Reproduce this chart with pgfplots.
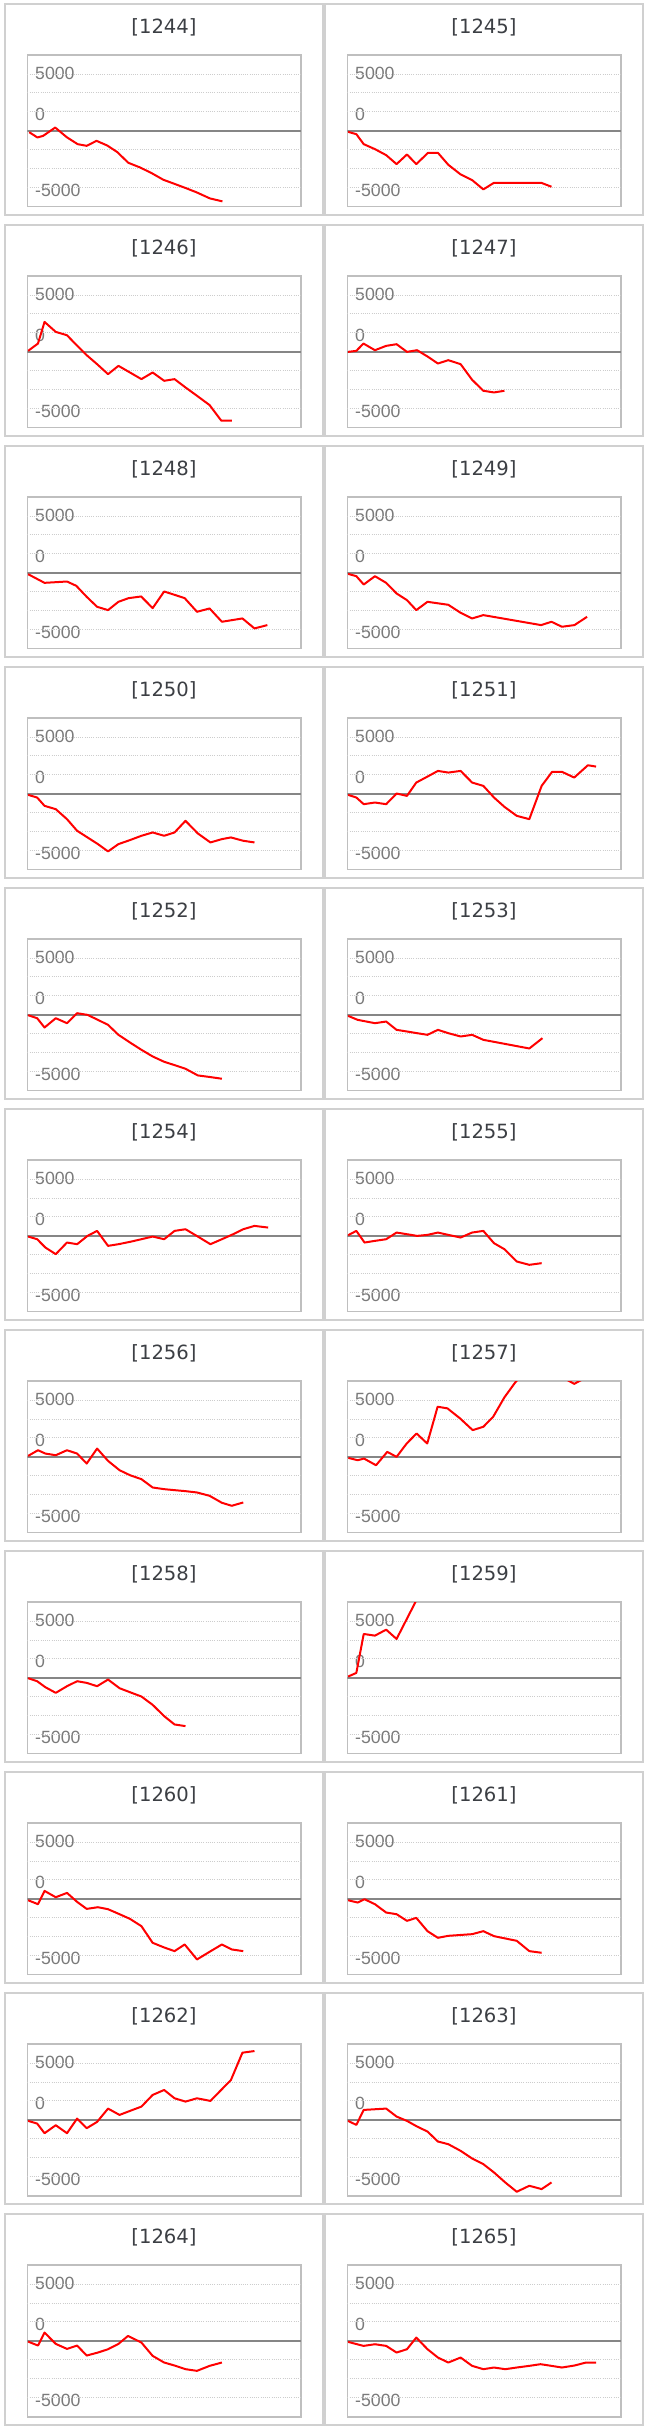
\documentclass[border=0pt]{standalone}
\usepackage{pgfplots}
\pgfplotsset{compat=1.18}
\usepackage{fontspec}
\setmainfont{Liberation Sans}
\newfontfamily\titlefam{DejaVu Sans}
\definecolor{boxgray}{HTML}{D0D0D0}
\definecolor{plotgray}{HTML}{BFBFBF}
\definecolor{gridgray}{HTML}{CDCDCD}
\definecolor{zerogray}{HTML}{868686}
\definecolor{labgray}{HTML}{7A7A7A}
\definecolor{titlegray}{HTML}{3C3F44}
\pgfplotsset{panel/.style={
  scale only axis, width=273.7bp, height=151.7bp,
  xmin=0, xmax=100, ymin=-8000, ymax=8000,
  axis line style={draw=plotgray, line width=1.5bp},
  xtick=\empty,
  ytick={6108,1688,-6308}, yticklabels={5000,0,-5000},
  major tick length=0pt,
  yticklabel style={anchor=west, inner sep=0pt, xshift=7.7bp,
     font=\fontsize{17.7bp}{20bp}\selectfont, text=labgray},
  extra y ticks={-6000,-4000,-2000,2000,4000,6000},
  extra y tick labels={},
  extra y tick style={grid=major, major grid style={gridgray, line width=0.9bp, dash pattern=on 1bp off 1.2bp}},
}}
\newcommand\panel[4]{%
  \pgfmathsetmacro\pnX{320*#1}%
  \pgfmathsetmacro\pnY{221*#2}%
  \pgfmathsetmacro\axX{27.3+\pnX}%
  \pgfmathsetmacro\axY{-55-\pnY}%
  \draw[boxgray, line width=2bp] ({5+\pnX},{-3.7-\pnY}) rectangle ({323+\pnX},{-215.3-\pnY});
  \node[anchor=base, inner sep=0pt, font=\titlefam\fontsize{19.6bp}{24bp}\selectfont, text=titlegray] at ({164+\pnX},{-33.3-\pnY}) {[#3]};
  \begin{axis}[panel, at={(\axX bp,\axY bp)}, anchor=north west]
    \addplot[zerogray, line width=1.7bp, forget plot] coordinates {(0,0) (100,0)};
    \addplot[red, line width=2bp, line join=round, mark=none] coordinates {#4};
  \end{axis}
}
\begin{document}
\begin{tikzpicture}[x=1bp, y=1bp]
\fill[white] (0,0) rectangle (647,-2432);
\path[use as bounding box] (0,0) rectangle (647,-2432);
\panel{0}{0}{1244}{(0.7,-140)(3.7,-700)(5.8,-526)(10.2,350)(14.4,-667)(18.4,-1404)(21.7,-1579)(25.3,-1053)(29.2,-1544)(32.9,-2246)(36.9,-3368)(41.2,-3860)(45.4,-4456)(49.7,-5158)(54,-5614)(58.2,-6070)(61.9,-6491)(66.7,-7123)(71.3,-7439)}
\panel{1}{0}{1245}{(0.3,-105)(3.3,-350)(6,-1404)(10.1,-1930)(14.2,-2561)(18,-3509)(21.8,-2491)(25.2,-3509)(29.5,-2316)(33.1,-2316)(36.9,-3579)(41.4,-4596)(45.6,-5193)(49.7,-6175)(53.6,-5474)(61.5,-5474)(70.8,-5474)(74.6,-5895)}
\panel{0}{1}{1246}{(0.3,105)(3.9,877)(6.3,3158)(10.4,2105)(14.5,1754)(17.9,737)(21.7,-351)(25.5,-1298)(29.5,-2351)(33.3,-1474)(37.5,-2175)(41.7,-2877)(45.8,-2175)(50,-3053)(53.8,-2877)(57.8,-3754)(62,-4632)(66.6,-5614)(70.9,-7263)(74.7,-7263)}
\panel{1}{1}{1247}{(0.3,0)(3.3,105)(5.9,877)(10.1,175)(14.2,632)(18,807)(21.8,0)(25.5,175)(29.3,-491)(33.1,-1228)(36.9,-877)(41.4,-1298)(45.6,-2947)(49.7,-4105)(53.6,-4281)(57.4,-4105)}
\panel{0}{2}{1248}{(0.3,-140)(6.3,-1053)(14.5,-912)(17.9,-1368)(21.7,-2526)(25.5,-3579)(29.5,-3930)(33.3,-3053)(37,-2667)(41.6,-2491)(45.8,-3719)(50,-1965)(53.8,-2316)(57.5,-2667)(62,-4105)(66.6,-3754)(71.1,-5158)(78.6,-4807)(83,-5860)(87.7,-5509)}
\panel{1}{2}{1249}{(0.3,-105)(3.3,-351)(6,-1228)(10.1,-351)(14.2,-1053)(18,-2175)(21.8,-2877)(25.2,-3930)(29.3,-3053)(36.9,-3368)(41.4,-4211)(45.6,-4807)(49.7,-4456)(70.8,-5509)(74.6,-5158)(78.4,-5684)(83,-5509)(87.6,-4632)}
\panel{0}{3}{1250}{(0.3,-105)(3.6,-386)(6.3,-1263)(10.4,-1614)(14.5,-2667)(18.2,-3895)(22,-4596)(25.8,-5298)(29.5,-6070)(33.3,-5298)(37.5,-4877)(41.7,-4421)(45.8,-4070)(50,-4421)(53.8,-4070)(57.8,-2842)(62.3,-4175)(66.9,-5123)(71.1,-4772)(74.4,-4596)(78.9,-4947)(83,-5123)}
\panel{1}{3}{1251}{(0.3,-105)(3.3,-386)(6,-1088)(10.1,-912)(14.2,-1088)(18,35)(21.8,-211)(25.2,1193)(29.3,1825)(33.1,2421)(36.9,2246)(41.4,2421)(45.6,1193)(49.7,842)(53.6,-386)(57.4,-1368)(61.9,-2316)(66.5,-2667)(71,842)(74.8,2316)(78.5,2316)(82.9,1719)(87.9,3018)(90.9,2877)}
\panel{0}{4}{1252}{(0.3,-35)(3.6,-351)(6.3,-1333)(10.4,-351)(14.5,-877)(18.2,175)(22,0)(25.8,-526)(29.5,-1053)(33.3,-2105)(37.5,-2912)(41.7,-3684)(45.8,-4386)(50,-4947)(53.8,-5298)(57.8,-5684)(62.3,-6386)(66.9,-6561)(71.1,-6737)}
\panel{1}{4}{1253}{(0.3,-105)(3.8,-526)(10.1,-877)(14.2,-702)(18,-1579)(21.8,-1754)(25.5,-1930)(29.3,-2105)(33.1,-1579)(36.9,-1930)(41.4,-2281)(45.6,-2105)(49.7,-2632)(66.5,-3544)(71.3,-2456)}
\panel{0}{5}{1254}{(0.3,-70)(3.6,-351)(6.6,-1228)(10.4,-1930)(14.5,-702)(18.2,-877)(22,0)(25.5,526)(29.5,-1053)(33.3,-877)(37.5,-632)(41.7,-351)(45.8,-70)(50,-351)(53.8,526)(57.8,702)(62.3,-70)(66.9,-877)(71.1,-351)(75.2,175)(78.9,702)(83,1053)(88,877)}
\panel{1}{5}{1255}{(0.3,70)(3.3,526)(6.3,-702)(10.1,-526)(14.2,-351)(18,351)(21.8,175)(25.5,0)(29.3,105)(33.1,351)(36.9,105)(41.4,-175)(45.6,351)(49.7,526)(53.6,-772)(57.4,-1404)(61.9,-2702)(66.5,-3053)(71,-2877)}
\panel{0}{6}{1256}{(0.3,105)(3.9,702)(6.6,351)(10.4,175)(14.5,702)(18.2,351)(21.7,-702)(25.5,877)(29.5,-421)(33.7,-1404)(37.5,-1930)(41.7,-2351)(45.8,-3228)(50,-3404)(53.8,-3509)(57.8,-3614)(62,-3754)(66.6,-4105)(71.1,-4842)(74.7,-5158)(78.9,-4807)}
\panel{1}{6}{1257}{(0.4,-106)(3.8,-353)(6.1,-176)(10.5,-882)(14.6,529)(18,0)(21.7,1411)(25.3,2469)(29.2,1411)(33,5291)(36.6,5115)(41.2,4056)(45.8,2822)(49.7,3175)(53.3,4233)(57.4,6279)(61.3,7832)(66.2,9500)(70.8,10500)(74.7,10000)(78.9,8350)(82.9,7700)(87,8350)}
\panel{0}{7}{1258}{(0.3,-35)(3.6,-351)(6.6,-982)(10.4,-1579)(14.5,-877)(18.2,-351)(21.7,-526)(25.5,-877)(29.5,-175)(33.7,-1088)(37.5,-1509)(41.7,-1965)(45.8,-2842)(50,-4035)(53.8,-4912)(57.8,-5088)}
\panel{1}{7}{1259}{(0.3,140)(3.3,526)(6,4632)(10.1,4456)(14.2,5088)(18,4105)(25.5,8340)}
\panel{0}{8}{1260}{(0.3,-140)(3.9,-561)(6.3,842)(10.4,175)(14.5,632)(18.2,-316)(21.7,-1053)(25.8,-877)(29.5,-1088)(33.7,-1614)(37.5,-2105)(41.7,-2877)(45.8,-4632)(50,-5123)(53.8,-5509)(57.5,-4807)(62,-6386)(66.6,-5579)(71.1,-4807)(74.7,-5333)(78.9,-5509)}
\panel{1}{8}{1261}{(0.3,-140)(3.8,-386)(6.3,-35)(10.1,-561)(14.2,-1439)(18,-1614)(21.8,-2316)(25.2,-2000)(29.3,-3404)(33.1,-4105)(36.9,-3895)(45.6,-3719)(49.7,-3404)(53.6,-3930)(61.9,-4421)(66.5,-5509)(71,-5684)}
\panel{0}{9}{1262}{(0.3,-105)(3.6,-386)(6.3,-1404)(10.4,-561)(14.5,-1404)(18.2,140)(21.7,-877)(25.5,-211)(29.5,1193)(33.7,526)(37.5,947)(41.7,1404)(45.8,2632)(50,3158)(53.8,2281)(57.8,1930)(62,2281)(66.9,2000)(74.4,4211)(78.6,7088)(83,7263)}
\panel{1}{9}{1263}{(0.3,-105)(3.3,-526)(6,1053)(10.1,1123)(14.2,1193)(18,351)(21.8,-105)(25.5,-702)(29.3,-1228)(33.1,-2281)(36.9,-2561)(41.4,-3263)(45.6,-4070)(49.7,-4667)(53.6,-5544)(57.7,-6596)(61.9,-7579)(66.5,-6947)(71,-7298)(74.6,-6596)}
\panel{0}{10}{1264}{(0.3,-70)(3.9,-491)(6.3,877)(10.4,-316)(14.5,-842)(18.2,-491)(21.7,-1544)(25.8,-1228)(29.5,-877)(33.3,-316)(36.8,526)(41.7,-175)(45.8,-1579)(50,-2281)(53.8,-2596)(57.8,-2982)(62,-3158)(66.6,-2632)(71.1,-2281)}
\panel{1}{10}{1265}{(0.3,-105)(5.9,-526)(10.1,-351)(14.2,-526)(18,-1228)(21.8,-877)(25.2,351)(29.3,-877)(33.1,-1754)(36.9,-2281)(41.4,-1754)(45.6,-2632)(49.7,-2982)(53.6,-2807)(57.7,-2982)(61.9,-2807)(66.5,-2632)(70.6,-2456)(74.6,-2632)(78.4,-2807)(83,-2596)(87.2,-2281)(90.9,-2281)}
\end{tikzpicture}
\end{document}
